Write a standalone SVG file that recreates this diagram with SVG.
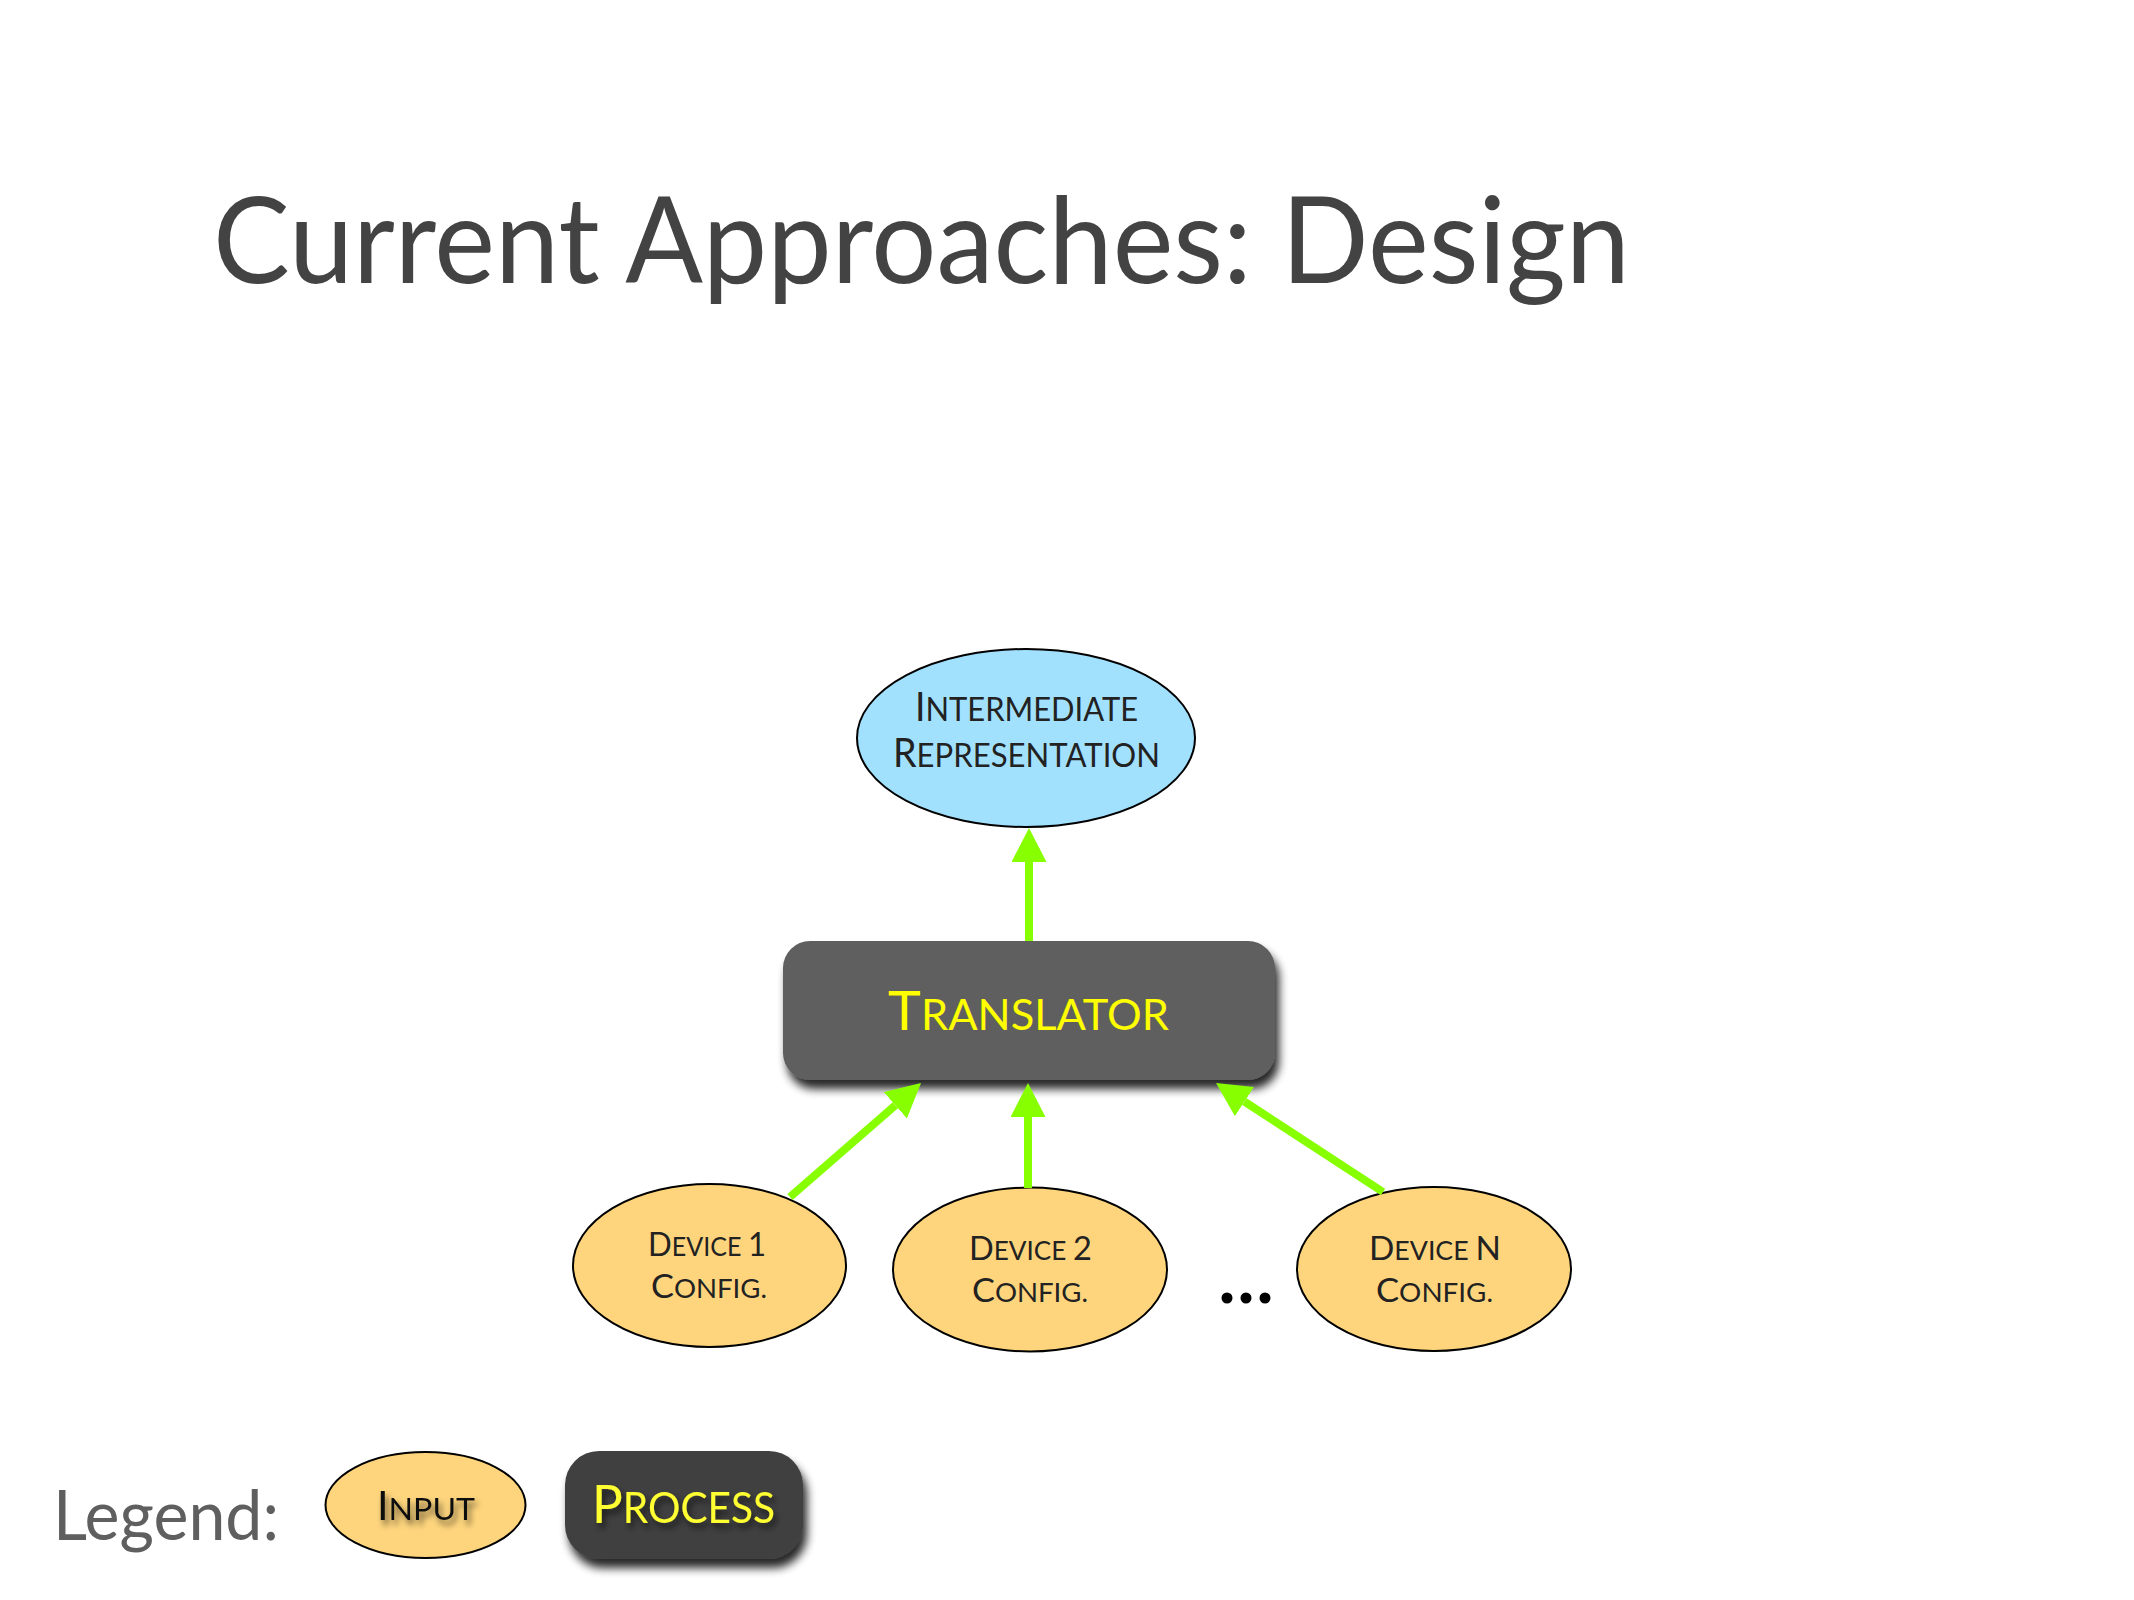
<svg xmlns="http://www.w3.org/2000/svg" width="2134" height="1600" viewBox="0 0 2134 1600">
  <defs>
    <style>
      text { font-family: Lato, "Open Sans", "Liberation Sans", sans-serif; }
      .title { fill: #434343; font-size: 120px; }
      .legend { fill: #5f5f5f; font-size: 70px; }
      .input { fill: #fed57d; stroke: #000; stroke-width: 2; }
      .ir { fill: #a2e1fe; stroke: #000; stroke-width: 2; }
      .dark { fill: #222; }
      .yel { fill: #ffff00; }
      .dc { font-size: 33px; }
      .ds { font-size: 26.5px; }
      .conn { stroke: #88ff00; stroke-width: 8; fill: none; marker-end: url(#arrow); }
    </style>
    <marker id="arrow" viewBox="0 0 34 35" markerWidth="34" markerHeight="35" markerUnits="userSpaceOnUse" refX="0" refY="17.5" orient="auto">
      <path d="M0,0 L34,17.5 L0,35 Z" fill="#88ff00"/>
    </marker>
    <filter id="shadow" x="-20%" y="-30%" width="150%" height="180%">
      <feGaussianBlur in="SourceAlpha" stdDeviation="5"/>
      <feOffset dx="4" dy="9" result="b"/>
      <feComponentTransfer><feFuncA type="linear" slope="0.85"/></feComponentTransfer>
      <feMerge><feMergeNode/><feMergeNode in="SourceGraphic"/></feMerge>
    </filter>
    <filter id="tshadow" x="-20%" y="-30%" width="150%" height="180%">
      <feGaussianBlur in="SourceAlpha" stdDeviation="3"/>
      <feOffset dx="3" dy="5"/>
      <feComponentTransfer><feFuncA type="linear" slope="0.6"/></feComponentTransfer>
      <feMerge><feMergeNode/><feMergeNode in="SourceGraphic"/></feMerge>
    </filter>
  </defs>
  <rect x="0" y="0" width="2134" height="1600" fill="#ffffff"/>

  <g id="title">
    <text class="title" x="213" y="283" textLength="1417" lengthAdjust="spacingAndGlyphs">Current Approaches: Design</text>
  </g>

  <g id="node-ir">
    <ellipse class="ir" cx="1026" cy="738" rx="169" ry="89"/>
    <text class="dark"><tspan x="915" y="721" textLength="223" lengthAdjust="spacingAndGlyphs"><tspan font-size="40">I</tspan><tspan font-size="33">NTERMEDIATE</tspan></tspan><tspan x="893" y="767" textLength="267" lengthAdjust="spacingAndGlyphs"><tspan font-size="40">R</tspan><tspan font-size="33">EPRESENTATION</tspan></tspan></text>
  </g>

  <g id="node-translator">
    <rect x="783" y="941" width="492" height="139" rx="27" ry="27" fill="#5e5e5e" filter="url(#shadow)"/>
    <text class="yel" x="888" y="1030" textLength="281" lengthAdjust="spacingAndGlyphs"><tspan font-size="54">T</tspan><tspan font-size="42">RANSLATOR</tspan></text>
  </g>

  <g id="node-device1">
    <ellipse class="input" cx="709.5" cy="1265.5" rx="136.5" ry="81.5"/>
    <text class="dark"><tspan x="648" y="1256" textLength="118" lengthAdjust="spacingAndGlyphs"><tspan class="dc">D</tspan><tspan class="ds">EVICE </tspan><tspan class="dc">1</tspan></tspan><tspan x="651" y="1298" textLength="116" lengthAdjust="spacingAndGlyphs"><tspan class="dc">C</tspan><tspan class="ds">ONFIG.</tspan></tspan></text>
  </g>

  <g id="node-device2">
    <ellipse class="input" cx="1030" cy="1269.5" rx="137" ry="82"/>
    <text class="dark"><tspan x="969" y="1260" textLength="123" lengthAdjust="spacingAndGlyphs"><tspan class="dc">D</tspan><tspan class="ds">EVICE </tspan><tspan class="dc">2</tspan></tspan><tspan x="972" y="1302" textLength="116" lengthAdjust="spacingAndGlyphs"><tspan class="dc">C</tspan><tspan class="ds">ONFIG.</tspan></tspan></text>
  </g>

  <g id="ellipsis">
    <circle cx="1227" cy="1298" r="5.5" fill="#000"/>
    <circle cx="1246" cy="1298" r="5.5" fill="#000"/>
    <circle cx="1265" cy="1298" r="5.5" fill="#000"/>
  </g>

  <g id="node-deviceN">
    <ellipse class="input" cx="1434" cy="1269" rx="137" ry="82"/>
    <text class="dark"><tspan x="1369" y="1260" textLength="132" lengthAdjust="spacingAndGlyphs"><tspan class="dc">D</tspan><tspan class="ds">EVICE </tspan><tspan class="dc">N</tspan></tspan><tspan x="1376" y="1302" textLength="117" lengthAdjust="spacingAndGlyphs"><tspan class="dc">C</tspan><tspan class="ds">ONFIG.</tspan></tspan></text>
  </g>

  <g id="connectors">
    <line class="conn" x1="1029" y1="941" x2="1029" y2="862"/>
    <line class="conn" x1="790" y1="1197" x2="895.4" y2="1105.3"/>
    <line class="conn" x1="1028" y1="1188" x2="1028" y2="1117"/>
    <line class="conn" x1="1383" y1="1192" x2="1244.5" y2="1101.6"/>
  </g>

  <g id="legend">
    <text class="legend" x="53" y="1540" textLength="226" lengthAdjust="spacingAndGlyphs">Legend:</text>
    <g id="legend-input">
      <ellipse class="input" cx="425.5" cy="1505" rx="100" ry="53"/>
      <text fill="#111" x="377" y="1520" textLength="98" lengthAdjust="spacingAndGlyphs" filter="url(#tshadow)"><tspan font-size="40">I</tspan><tspan font-size="31">NPUT</tspan></text>
    </g>
    <g id="legend-process">
      <rect x="565" y="1451" width="238" height="108" rx="34" ry="34" fill="#404040" filter="url(#shadow)"/>
      <text fill="#ffff33" x="592" y="1523" textLength="183" lengthAdjust="spacingAndGlyphs" filter="url(#tshadow)"><tspan font-size="53">P</tspan><tspan font-size="42">ROCESS</tspan></text>
    </g>
  </g>
</svg>
